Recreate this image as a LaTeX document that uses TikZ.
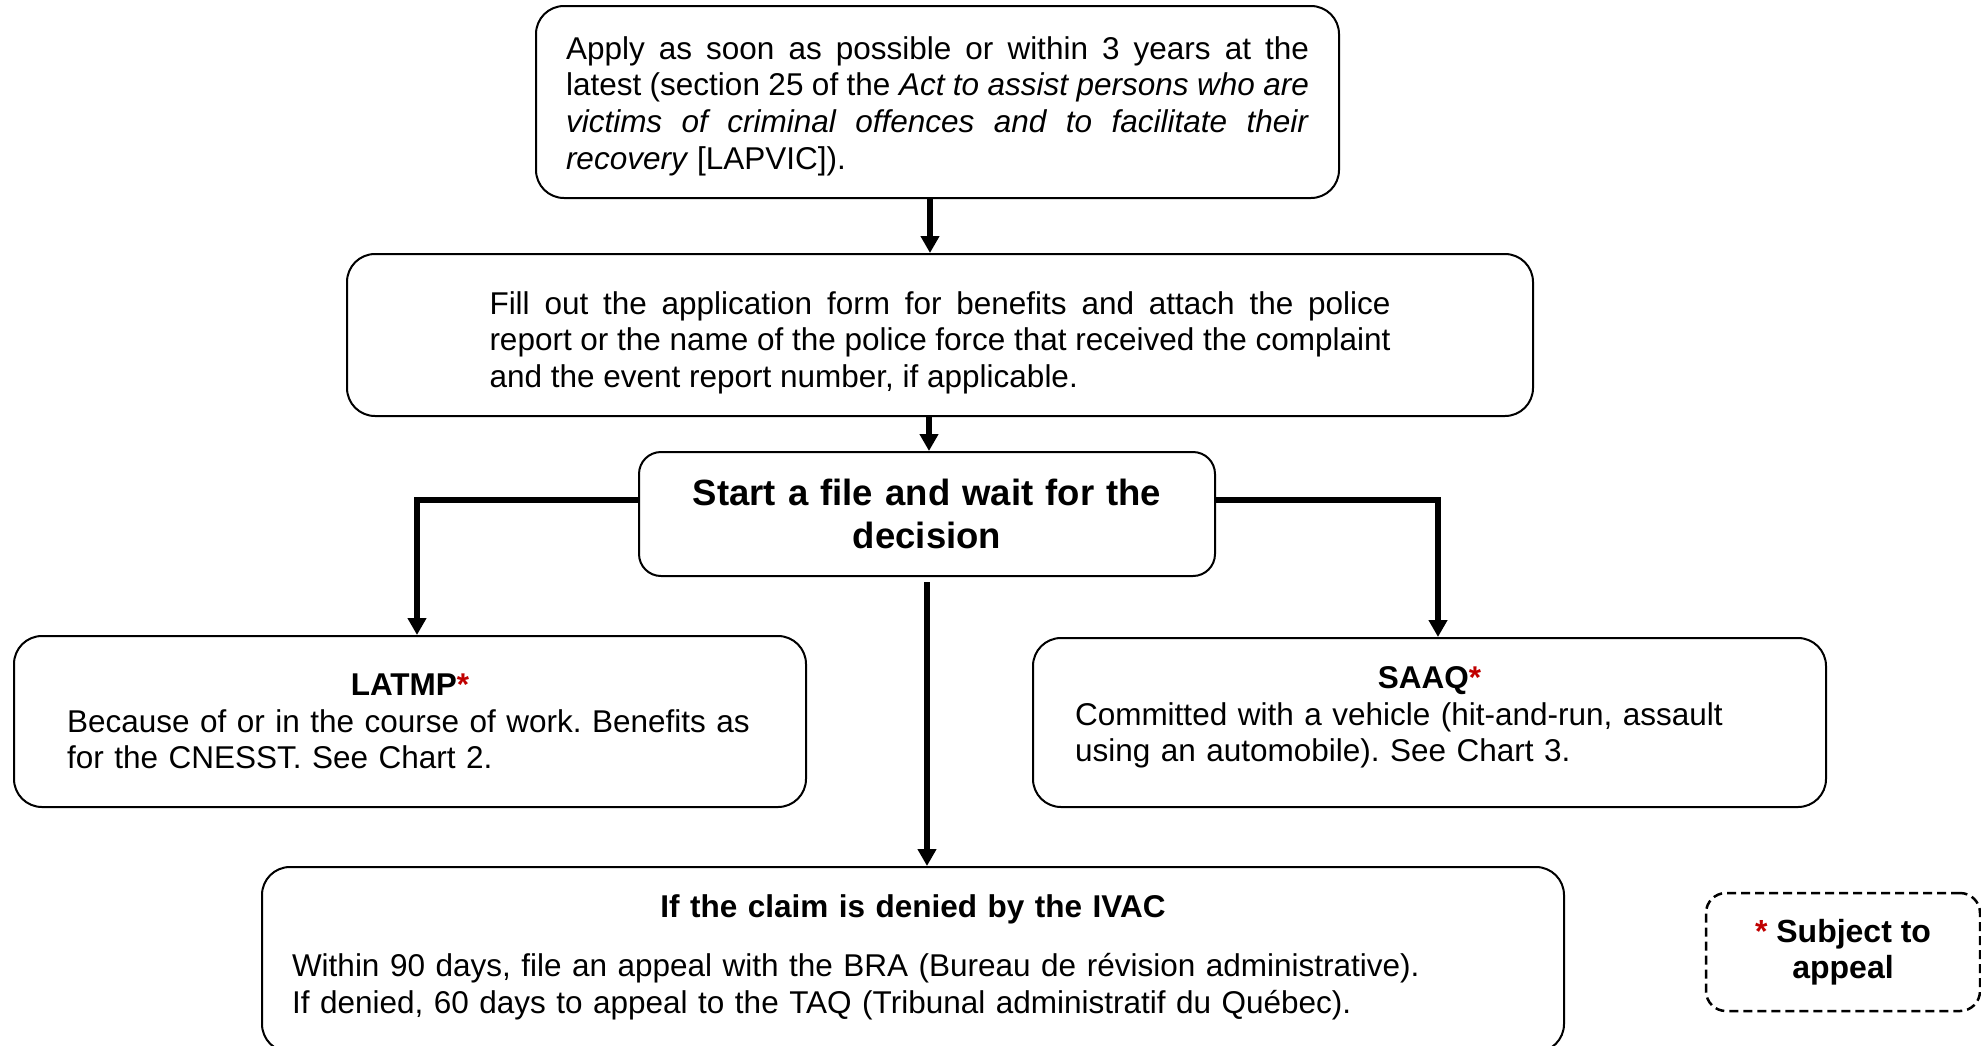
\documentclass[tikz,border=0pt]{standalone}
\usepackage{fontspec}
\setmainfont{Liberation Sans}
\usetikzlibrary{arrows.meta}
\definecolor{astred}{RGB}{192,0,0}
\frenchspacing
\begin{document}
\begin{tikzpicture}[x=1pt,y=-1pt,
  box/.style={draw=black, line width=2pt, rounded corners=28pt, inner sep=0pt,
    font=\frenchspacing\fontsize{31.5}{36.6}\selectfont},
  arr/.style={line width=5.5pt, -{Triangle[length=17pt,width=18pt]}},
  branch/.style={line width=5.5pt, line join=miter, -{Triangle[length=17pt,width=18pt]}},
  legendbox/.style={draw=black, line width=2.5pt, dash pattern=on 9pt off 5pt,
    rounded corners=20pt, inner sep=0pt, align=center,
    font=\bfseries\fontsize{32}{36.5}\selectfont},
]
\useasboundingbox (0,0) rectangle (1981,1045);

\node[box, minimum width=803pt, minimum height=192pt, text width=743pt, align=justify] (apply) at (937.5,102)
 {\rule{0pt}{31pt}Apply as soon as possible or within 3 years at the\linebreak
  latest (section 25 of the \textit{Act to assist persons who are}\linebreak
  \textit{victims of criminal offences and to facilitate their}\linebreak
  \textit{recovery} [LAPVIC]).};

\node[box, minimum width=1186pt, minimum height=162pt, text width=901pt, align=justify] (form) at (940,335)
 {\rule{0pt}{38pt}Fill out the application form for benefits and attach the police\linebreak
  report or the name of the police force that received the complaint\linebreak
  and the event report number, if applicable.};

\node[box, rounded corners=22pt, minimum width=576pt, minimum height=124pt, text width=540pt, align=center,
  font=\bfseries\fontsize{36.5}{43}\selectfont] (file) at (927,514)
 {Start a file and wait for the\\decision};

\node[box, minimum width=792pt, minimum height=171pt, text width=686pt, align=left] (latmp) at (410,721.5)
 {\makebox[\linewidth]{\bfseries LATMP\textcolor{astred}{*}}\\
  Because of or in the course of work. Benefits as\\
  for the CNESST. See Chart 2.};

\node[box, minimum width=793pt, minimum height=169pt, text width=709pt, align=left] (saaq) at (1429.5,722.5)
 {\makebox[\linewidth]{\bfseries SAAQ\textcolor{astred}{*}}\\
  Committed with a vehicle (hit-and-run, assault\\
  using an automobile). See Chart 3.\rule[-17pt]{0pt}{17pt}};

\node[box, minimum width=1302pt, minimum height=185pt, text width=1242pt, align=left] (denied) at (913,959.5)
 {\makebox[\linewidth]{\bfseries If the claim is denied by the IVAC}\\[23pt]
  Within 90 days, file an appeal with the BRA (Bureau de révision administrative).\\
  If denied, 60 days to appeal to the TAQ (Tribunal administratif du Québec).\rule[-11pt]{0pt}{11pt}};

\node[legendbox, minimum width=274pt, minimum height=118pt] (legend) at (1843,952)
 {\textcolor{astred}{*} Subject to\\appeal};

\coordinate (lc) at (417,500);
\coordinate (rc) at (1438,500);

\draw[arr] (930,0 |- apply.south) -- (930,0 |- form.north);
\draw[arr] (929,0 |- form.south) -- (929,0 |- file.north);
\draw[branch] (file.west |- lc) -- (lc) -- (latmp.north -| lc);
\draw[branch] (file.east |- rc) -- (rc) -- (saaq.north -| rc);
\draw[arr, shorten <=5pt] (927,0 |- file.south) -- (927,0 |- denied.north);
\end{tikzpicture}
\end{document}
